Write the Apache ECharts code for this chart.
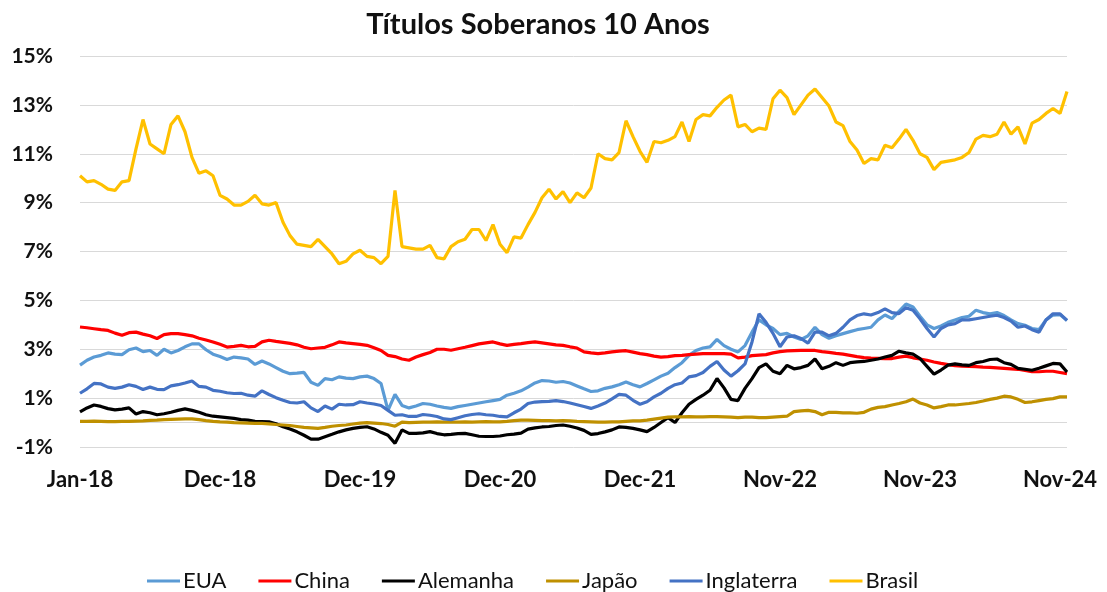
<!DOCTYPE html>
<html>
<head>
<meta charset="utf-8">
<script src="https://cdn.jsdelivr.net/npm/echarts@6/dist/echarts.min.js"></script>
<style>
  html, body { margin: 0; padding: 0; background: #fff; }
  #chart { width: 1107px; height: 592px; }
</style>
</head>
<body>
<div id="chart"></div>
<script>
// rótulos do eixo X (um a cada 20 pontos)
var tickLabels = ['Jan-18', 'Dec-18', 'Dec-19', 'Dec-20', 'Dec-21', 'Nov-22', 'Nov-23', 'Nov-24'];
var seriesNames = ['EUA', 'China', 'Alemanha', 'Japão', 'Inglaterra', 'Brasil'];
var seriesColors = ['#5B9BD5', '#FF0000', '#000000', '#BF9000', '#4472C4', '#FFC000'];

var eua = [2.35,2.55,2.68,2.75,2.85,2.8,2.78,2.98,3.05,2.9,2.95,2.75,3.0,2.85,2.95,3.1,3.22,3.22,2.98,2.8,
  2.7,2.58,2.68,2.65,2.6,2.38,2.52,2.4,2.25,2.1,2.0,2.02,2.05,1.65,1.52,1.8,1.75,1.87,1.82,1.8,
  1.87,1.9,1.8,1.6,0.5,1.15,0.7,0.6,0.68,0.78,0.75,0.68,0.62,0.58,0.65,0.7,0.75,0.8,0.85,0.9,
  0.95,1.12,1.2,1.3,1.45,1.62,1.72,1.7,1.65,1.68,1.62,1.5,1.38,1.27,1.3,1.4,1.46,1.55,1.66,1.55,
  1.46,1.6,1.75,1.9,2.02,2.25,2.45,2.75,2.95,3.05,3.1,3.4,3.15,3.0,2.89,3.15,3.7,4.2,4.0,3.85,
  3.6,3.65,3.5,3.4,3.55,3.9,3.6,3.45,3.55,3.64,3.72,3.8,3.85,3.9,4.2,4.4,4.25,4.55,4.85,4.73,
  4.35,4.0,3.85,3.95,4.1,4.2,4.3,4.35,4.6,4.5,4.45,4.5,4.38,4.2,4.05,3.98,3.85,3.8,4.2,4.4,
  4.42,4.18];

var china = [3.91,3.88,3.84,3.8,3.77,3.66,3.57,3.68,3.7,3.62,3.55,3.44,3.6,3.64,3.64,3.6,3.55,3.45,3.38,3.3,
  3.2,3.09,3.12,3.16,3.1,3.12,3.3,3.37,3.32,3.28,3.24,3.18,3.08,3.02,3.05,3.08,3.18,3.3,3.26,3.23,
  3.2,3.16,3.06,2.95,2.75,2.7,2.6,2.55,2.68,2.78,2.87,3.0,3.0,2.96,3.02,3.08,3.15,3.22,3.26,3.3,
  3.22,3.16,3.2,3.23,3.27,3.3,3.26,3.22,3.18,3.16,3.1,3.05,2.89,2.85,2.82,2.85,2.89,2.92,2.94,2.88,
  2.82,2.78,2.72,2.68,2.7,2.74,2.75,2.78,2.8,2.82,2.82,2.82,2.82,2.8,2.65,2.68,2.74,2.76,2.78,2.85,
  2.9,2.93,2.94,2.95,2.96,2.95,2.9,2.87,2.83,2.8,2.75,2.7,2.66,2.64,2.63,2.62,2.62,2.68,2.72,2.65,
  2.6,2.55,2.48,2.42,2.37,2.33,2.31,2.3,2.29,2.27,2.26,2.24,2.22,2.2,2.18,2.13,2.08,2.08,2.1,2.1,
  2.05,2.0];

var alemanha = [0.44,0.6,0.72,0.66,0.57,0.52,0.55,0.6,0.35,0.45,0.4,0.32,0.36,0.42,0.5,0.56,0.5,0.42,0.32,0.26,
  0.23,0.2,0.17,0.12,0.1,0.05,0.04,0.03,-0.05,-0.17,-0.26,-0.38,-0.52,-0.68,-0.68,-0.58,-0.48,-0.38,-0.3,-0.24,
  -0.2,-0.17,-0.26,-0.4,-0.52,-0.85,-0.3,-0.44,-0.44,-0.42,-0.37,-0.45,-0.5,-0.48,-0.45,-0.44,-0.5,-0.56,-0.57,-0.57,
  -0.55,-0.5,-0.47,-0.43,-0.27,-0.22,-0.18,-0.16,-0.12,-0.1,-0.15,-0.22,-0.32,-0.48,-0.45,-0.38,-0.3,-0.18,-0.2,-0.24,
  -0.3,-0.37,-0.2,0.0,0.2,0.0,0.4,0.75,0.95,1.12,1.32,1.8,1.42,0.95,0.9,1.4,1.8,2.25,2.4,2.1,
  2.0,2.34,2.2,2.25,2.34,2.6,2.2,2.3,2.45,2.34,2.45,2.48,2.5,2.55,2.6,2.68,2.75,2.92,2.85,2.8,
  2.62,2.3,1.98,2.15,2.35,2.4,2.36,2.34,2.45,2.5,2.58,2.6,2.45,2.38,2.22,2.18,2.14,2.22,2.32,2.42,
  2.4,2.07];

var japao = [0.05,0.05,0.06,0.05,0.04,0.04,0.05,0.05,0.06,0.07,0.09,0.1,0.12,0.13,0.14,0.15,0.15,0.12,0.08,0.05,
  0.03,0.02,0.0,-0.01,-0.02,-0.03,-0.03,-0.05,-0.08,-0.1,-0.12,-0.16,-0.2,-0.22,-0.24,-0.2,-0.15,-0.12,-0.1,-0.06,
  -0.02,0.0,-0.02,-0.04,-0.08,-0.15,0.02,0.0,0.01,0.02,0.02,0.03,0.02,0.02,0.02,0.03,0.02,0.03,0.04,0.03,
  0.03,0.05,0.08,0.1,0.1,0.09,0.08,0.08,0.07,0.08,0.07,0.05,0.04,0.03,0.02,0.02,0.03,0.03,0.05,0.07,
  0.07,0.1,0.14,0.18,0.22,0.23,0.23,0.24,0.23,0.23,0.24,0.24,0.23,0.22,0.2,0.22,0.22,0.2,0.2,0.22,
  0.24,0.26,0.45,0.48,0.5,0.45,0.32,0.42,0.42,0.4,0.4,0.38,0.42,0.55,0.62,0.65,0.72,0.78,0.85,0.96,
  0.8,0.72,0.6,0.65,0.72,0.72,0.75,0.78,0.82,0.88,0.95,1.0,1.08,1.05,0.95,0.82,0.85,0.9,0.95,0.98,
  1.05,1.05];

var inglaterra = [1.2,1.38,1.6,1.58,1.45,1.4,1.45,1.55,1.48,1.35,1.45,1.36,1.35,1.5,1.55,1.62,1.7,1.48,1.45,1.32,
  1.28,1.22,1.19,1.2,1.12,1.08,1.3,1.15,1.02,0.91,0.82,0.8,0.85,0.6,0.45,0.68,0.55,0.75,0.72,0.73,
  0.85,0.8,0.76,0.7,0.5,0.3,0.32,0.25,0.25,0.33,0.3,0.25,0.15,0.12,0.2,0.28,0.33,0.36,0.32,0.3,
  0.25,0.23,0.4,0.55,0.78,0.84,0.86,0.87,0.9,0.86,0.8,0.73,0.66,0.58,0.68,0.8,0.97,1.15,1.12,0.91,
  0.75,0.85,1.05,1.2,1.4,1.55,1.62,1.87,1.92,2.05,2.3,2.5,2.15,1.9,2.12,2.4,3.3,4.45,4.1,3.65,
  3.1,3.5,3.55,3.44,3.25,3.7,3.7,3.55,3.65,3.9,4.2,4.38,4.45,4.4,4.5,4.65,4.5,4.46,4.7,4.6,
  4.25,3.85,3.5,3.85,4.0,4.05,4.2,4.2,4.25,4.3,4.35,4.39,4.3,4.15,3.9,3.95,3.8,3.7,4.2,4.45,
  4.45,4.18];

var brasil = [10.1,9.85,9.9,9.75,9.55,9.5,9.85,9.9,11.2,12.4,11.4,11.2,11.0,12.2,12.55,11.9,10.85,10.2,10.3,10.1,
  9.3,9.15,8.9,8.9,9.05,9.3,8.95,8.9,9.0,8.2,7.65,7.3,7.25,7.2,7.5,7.2,6.9,6.5,6.6,6.9,
  7.05,6.8,6.75,6.5,6.8,9.5,7.2,7.15,7.1,7.1,7.25,6.75,6.7,7.2,7.4,7.5,7.9,7.9,7.45,8.1,
  7.3,6.95,7.6,7.55,8.1,8.6,9.2,9.55,9.15,9.45,9.0,9.4,9.2,9.6,11.0,10.8,10.75,11.05,12.35,11.7,
  11.1,10.65,11.5,11.45,11.55,11.7,12.3,11.5,12.4,12.6,12.55,12.9,13.2,13.4,12.1,12.2,11.9,12.05,12.0,13.25,
  13.6,13.3,12.6,13.0,13.4,13.65,13.3,12.95,12.3,12.15,11.5,11.15,10.6,10.8,10.75,11.35,11.25,11.6,12.0,11.55,
  11.0,10.85,10.35,10.65,10.7,10.75,10.85,11.05,11.6,11.75,11.7,11.8,12.3,11.8,12.1,11.4,12.25,12.4,12.65,12.85,
  12.65,13.55];

var seriesData = [eua, china, alemanha, japao, inglaterra, brasil];

// eixo de categorias: rótulo a cada 20 pontos
var categories = [];
for (var i = 0; i < brasil.length; i++) {
    categories.push(i % 20 === 0 ? (tickLabels[i / 20] || '') : '');
}

var chart = echarts.init(document.getElementById('chart'));

var series = seriesNames.map(function (name, k) {
    var s = {
        name: name,
        type: 'line',
        data: seriesData[k],
        symbol: 'none',
        lineStyle: { color: seriesColors[k], width: 3.2 },
        itemStyle: { color: seriesColors[k] },
        z: 2 + k
    };
    if (k === 0) {
        // linha do eixo em 0%
        s.markLine = {
            silent: true,
            symbol: 'none',
            label: { show: false },
            lineStyle: { color: '#d9d9d9', width: 1, type: 'solid' },
            data: [{ yAxis: 0 }],
            z: 1
        };
    }
    return s;
});

chart.setOption({
    backgroundColor: '#fff',
    animation: false,
    title: {
        text: 'Títulos Soberanos 10 Anos',
        left: 533,
        textAlign: 'center',
        top: 5,
        textStyle: { fontFamily: 'Lato', fontWeight: 'bold', fontSize: 29, color: '#111' }
    },
    grid: { left: 80, right: 40, top: 56, bottom: 145 },
    legend: {
        top: 565,
        left: 142,
        itemWidth: 33,
        itemHeight: 3,
        itemGap: 32,
        icon: 'rect',
        textStyle: { fontFamily: 'Lato', fontSize: 22, color: '#111', padding: [0, 0, 0, -2] },
        data: seriesNames
    },
    xAxis: {
        type: 'category',
        data: categories,
        boundaryGap: false,
        axisLine: { show: false },
        axisTick: { show: false },
        splitLine: { show: false },
        axisLabel: {
            interval: 19,
            margin: 22,
            fontFamily: 'Lato',
            fontWeight: 'bold',
            fontSize: 22,
            color: '#111'
        }
    },
    yAxis: {
        type: 'value',
        min: -1,
        max: 15,
        interval: 2,
        axisLine: { show: false },
        axisTick: { show: false },
        splitLine: { lineStyle: { color: '#d9d9d9', width: 1 } },
        axisLabel: {
            margin: 27,
            fontFamily: 'Lato',
            fontWeight: 'bold',
            fontSize: 21,
            color: '#111',
            formatter: '{value}%'
        }
    },
    series: series
});
</script>
</body>
</html>
